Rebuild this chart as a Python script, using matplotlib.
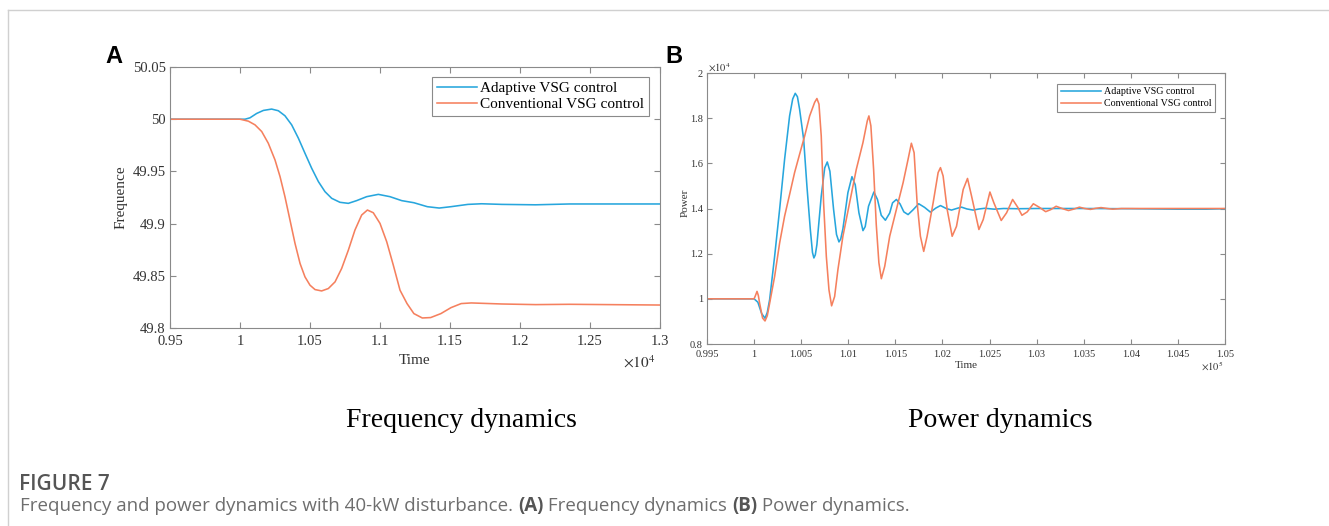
import numpy as np
import matplotlib
matplotlib.use('Agg')
import matplotlib.pyplot as plt
from matplotlib.lines import Line2D

plt.rcParams['font.family'] = 'Liberation Serif'
plt.rcParams['mathtext.fontset'] = 'stix'

# ---- data ----
# panel A: frequency, time in units of 1e4
freqAdaptiveT = [0.95, 1.0, 1.0036, 1.0071, 1.0119, 1.0167, 1.0226, 1.0274, 1.0321, 1.0369,
                 1.0417, 1.0464, 1.0512, 1.056, 1.0607, 1.0655, 1.0714, 1.0774, 1.0833, 1.0905,
                 1.0988, 1.1071, 1.1155, 1.1242, 1.1338, 1.1423, 1.1507, 1.1628, 1.1725, 1.187,
                 1.2111, 1.2353, 1.2594, 1.3]
freqAdaptive = [50.0, 50.0, 50.0, 50.0013, 50.0055, 50.0084, 50.0097, 50.0081, 50.0033, 49.9946,
                49.9818, 49.9674, 49.953, 49.9402, 49.9306, 49.9242, 49.9204, 49.9194, 49.922, 49.9258,
                49.928, 49.9258, 49.922, 49.92, 49.9162, 49.9149, 49.9162, 49.9184, 49.919, 49.9184,
                49.918, 49.9188, 49.9188, 49.9188]
freqConvT = [0.95, 1.0, 1.006, 1.0107, 1.0155, 1.0202, 1.025, 1.0286, 1.0321, 1.0357,
             1.0393, 1.0429, 1.0464, 1.05, 1.0536, 1.0583, 1.0631, 1.0679, 1.0726, 1.0774,
             1.0821, 1.0869, 1.091, 1.0952, 1.1, 1.1048, 1.1095, 1.1143, 1.1193, 1.1242,
             1.1302, 1.1362, 1.1435, 1.1507, 1.158, 1.1652, 1.187, 1.2111, 1.2353, 1.3]
freqConv = [50.0, 50.0, 49.9981, 49.9946, 49.9882, 49.977, 49.961, 49.945, 49.9258, 49.9034,
            49.881, 49.8618, 49.849, 49.841, 49.8368, 49.8355, 49.8378, 49.8442, 49.857, 49.8746,
            49.8938, 49.9082, 49.913, 49.9104, 49.9002, 49.8826, 49.8602, 49.8362, 49.8234, 49.8138,
            49.8096, 49.81, 49.8138, 49.8195, 49.8234, 49.824, 49.823, 49.8224, 49.8227, 49.822]

# panel B: power (units of 1e4), time in units of 1e5
powAdaptiveT = [0.995, 1.0, 1.0004, 1.0008, 1.00116, 1.0014, 1.00165, 1.00218, 1.00271, 1.00324,
                1.00377, 1.0041, 1.00437, 1.0046, 1.00483, 1.00526, 1.00561, 1.00597, 1.0062, 1.00635,
                1.0065, 1.00667, 1.00713, 1.0075, 1.00777, 1.00805, 1.00844, 1.00875, 1.00901, 1.0092,
                1.00943, 1.00996, 1.01039, 1.01074, 1.01113, 1.01156, 1.0118, 1.01215, 1.01272, 1.0131,
                1.0135, 1.01394, 1.0144, 1.0147, 1.01511, 1.0155, 1.0159, 1.01635, 1.0169, 1.01748,
                1.0181, 1.01872, 1.0193, 1.01979, 1.0204, 1.02096, 1.0215, 1.02202, 1.0226, 1.02326,
                1.0239, 1.0245, 1.0255, 1.0265, 1.028, 1.03, 1.035, 1.04, 1.045, 1.048, 1.05]
powAdaptive = [1.0, 1.0, 0.985, 0.935, 0.914, 0.94, 0.996, 1.188, 1.396, 1.618,
               1.81, 1.885, 1.91, 1.895, 1.84, 1.707, 1.499, 1.307, 1.205, 1.181,
               1.195, 1.24, 1.455, 1.58, 1.606, 1.565, 1.396, 1.285, 1.252, 1.265,
               1.31, 1.47, 1.541, 1.505, 1.381, 1.302, 1.32, 1.41, 1.473, 1.44,
               1.37, 1.348, 1.38, 1.425, 1.44, 1.42, 1.385, 1.373, 1.395, 1.421,
               1.405, 1.384, 1.402, 1.413, 1.40, 1.393, 1.40, 1.406, 1.398, 1.393,
               1.398, 1.401, 1.397, 1.400, 1.399, 1.400, 1.400, 1.399, 1.397, 1.397, 1.399]
powConvT = [0.995, 1.0, 1.00015, 1.00031, 1.00045, 1.00059, 1.0009, 1.00116, 1.0014, 1.00165,
            1.00218, 1.00271, 1.00324, 1.00377, 1.0043, 1.00483, 1.00537, 1.0059, 1.00643, 1.00667,
            1.00689, 1.00713, 1.00738, 1.00767, 1.00795, 1.00823, 1.00855, 1.0089, 1.00943, 1.01014,
            1.01085, 1.01156, 1.01202, 1.01219, 1.0124, 1.01269, 1.01297, 1.01325, 1.01351, 1.01387,
            1.0144, 1.01511, 1.01582, 1.01635, 1.0167, 1.01699, 1.01731, 1.01766, 1.01801, 1.01837,
            1.01901, 1.01954, 1.01979, 1.02007, 1.0205, 1.02103, 1.02149, 1.0222, 1.02266, 1.02309,
            1.02387, 1.02433, 1.02504, 1.02546, 1.02624, 1.02681, 1.02745, 1.028, 1.02844, 1.029,
            1.02965, 1.0303, 1.03096, 1.0315, 1.03207, 1.0327, 1.03338, 1.034, 1.03454, 1.0351,
            1.03571, 1.0363, 1.03684, 1.0375, 1.03807, 1.039, 1.05]
powConv = [1.0, 1.0, 1.015, 1.033, 1.015, 0.98, 0.915, 0.902, 0.925, 0.98,
           1.099, 1.247, 1.366, 1.462, 1.559, 1.64, 1.721, 1.81, 1.87, 1.887,
           1.862, 1.721, 1.425, 1.188, 1.04, 0.969, 1.01, 1.129, 1.277, 1.425,
           1.573, 1.692, 1.788, 1.81, 1.766, 1.573, 1.33, 1.16, 1.089, 1.144,
           1.277, 1.396, 1.514, 1.618, 1.689, 1.647, 1.425, 1.277, 1.21, 1.277,
           1.425, 1.559, 1.581, 1.544, 1.396, 1.277, 1.321, 1.484, 1.533, 1.455,
           1.307, 1.351, 1.473, 1.425, 1.347, 1.381, 1.44, 1.405, 1.37, 1.385,
           1.421, 1.405, 1.386, 1.395, 1.41, 1.40, 1.391, 1.398, 1.406, 1.40,
           1.396, 1.401, 1.404, 1.40, 1.397, 1.400, 1.400]

labels = ['Adaptive VSG control', 'Conventional VSG control']
blue = '#27a6dd'
orange = '#f5805e'
axisGray = '#8a8a8a'
textGray = '#333333'

W, H = 1329, 526
fig = plt.figure(figsize=(W / 100, H / 100), dpi=100)


def pxAxes(l, t, r, b):
    return fig.add_axes([l / W, 1 - b / H, (r - l) / W, (b - t) / H])


def matlabStyle(ax, size, ticklen, xpad, ypad):
    for s in ax.spines.values():
        s.set_color(axisGray)
        s.set_linewidth(0.8)
    ax.tick_params(direction='in', top=True, right=True, length=ticklen, width=0.8,
                   color=axisGray, labelsize=size, labelcolor=textGray)
    ax.tick_params(axis='x', pad=xpad)
    ax.tick_params(axis='y', pad=ypad)


def fmt(v):
    return ('%.3f' % v).rstrip('0').rstrip('.')


# ---- panel A ----
axA = pxAxes(170, 67, 660, 328)
axA.plot(freqAdaptiveT, freqAdaptive, color=blue, lw=1.15, label=labels[0])
axA.plot(freqConvT, freqConv, color=orange, lw=1.15, label=labels[1])
axA.set_xlim(0.95, 1.3)
axA.set_ylim(49.8, 50.05)
xtA = np.arange(0.95, 1.3001, 0.05)
ytA = np.arange(49.8, 50.0501, 0.05)
axA.set_xticks(xtA)
axA.set_xticklabels([fmt(v) for v in xtA])
axA.set_yticks(ytA)
axA.set_yticklabels([fmt(v) for v in ytA])
matlabStyle(axA, 10.5, 4, 5, 3)
axA.set_xlabel('Time', fontsize=11, color=textGray)
axA.xaxis.set_label_coords(0.5, -0.1)
axA.set_ylabel('Frequence', fontsize=11, color=textGray)
axA.yaxis.set_label_coords(-0.086, 0.5)
axA.text(0.99, -0.153, r'$\times10^{4}$', transform=axA.transAxes, ha='right', va='baseline',
         fontsize=11, color=textGray)
legA = axA.legend(loc='upper right', bbox_to_anchor=(649 / W, 1 - 77 / H),
                  bbox_transform=fig.transFigure, borderaxespad=0, fontsize=11,
                  handlelength=2.6, handletextpad=0.25, labelspacing=0.15, borderpad=0.3,
                  fancybox=False, framealpha=1)
legA.get_frame().set_edgecolor(axisGray)
legA.get_frame().set_linewidth(0.8)

# ---- panel B ----
axB = pxAxes(707, 73, 1225, 344)
axB.plot(powAdaptiveT, powAdaptive, color=blue, lw=1.15, label=labels[0])
axB.plot(powConvT, powConv, color=orange, lw=1.15, label=labels[1])
axB.set_xlim(0.995, 1.05)
axB.set_ylim(0.8, 2.0)
xtB = np.arange(0.995, 1.05001, 0.005)
ytB = np.arange(0.8, 2.0001, 0.2)
axB.set_xticks(xtB)
axB.set_xticklabels([fmt(v) for v in xtB])
axB.set_yticks(ytB)
axB.set_yticklabels([fmt(v) for v in ytB])
matlabStyle(axB, 7.5, 3.5, 4, 3)
axB.set_xlabel('Time', fontsize=8, color=textGray)
axB.xaxis.set_label_coords(0.5, -0.063)
axB.set_ylabel('Power', fontsize=8, color=textGray)
axB.yaxis.set_label_coords(-0.033, 0.52)
axB.text(0.002, 1.006, r'$\times10^{4}$', transform=axB.transAxes, ha='left', va='baseline',
         fontsize=7.5, color=textGray)
axB.text(0.996, -0.1, r'$\times10^{5}$', transform=axB.transAxes, ha='right', va='baseline',
         fontsize=7.5, color=textGray)
legB = axB.legend(loc='upper right', bbox_to_anchor=(1215 / W, 1 - 84 / H),
                  bbox_transform=fig.transFigure, borderaxespad=0, fontsize=7.2,
                  handlelength=4.0, handletextpad=0.3, labelspacing=0.3, borderpad=0.35,
                  fancybox=False, framealpha=1)
legB.get_frame().set_edgecolor(axisGray)
legB.get_frame().set_linewidth(0.8)

# ---- panel letters and sub captions ----
fig.text(105 / W, 1 - 63 / H, 'A', family='Liberation Sans', weight='bold', fontsize=17,
         va='baseline')
fig.text(665 / W, 1 - 63 / H, 'B', family='Liberation Sans', weight='bold', fontsize=17,
         va='baseline')
fig.text(461 / W, 1 - 427 / H, 'Frequency dynamics', fontsize=20, ha='center', va='baseline')
fig.text(1000 / W, 1 - 427 / H, 'Power dynamics', fontsize=20, ha='center', va='baseline')

# ---- figure caption ----
fig.text(19 / W, 1 - 490 / H, 'FIGURE 7', family='Open Sans', weight='semibold', fontsize=15,
         color='#555555', va='baseline')
renderer = fig.canvas.get_renderer()
x = 20
pieces = [('Frequency and power dynamics with 40-kW disturbance. ', 'normal'),
          ('(A)', 'bold'), (' Frequency dynamics ', 'normal'),
          ('(B)', 'bold'), (' Power dynamics.', 'normal')]
for s, w in pieces:
    t = fig.text(x / W, 1 - 511 / H, s, family='Open Sans', weight=w, fontsize=13.5,
                 color='#555555' if w == 'bold' else '#6e6e6e', va='baseline')
    x = t.get_window_extent(renderer).x1

# thin page frame
fig.add_artist(Line2D([8 / W, 1], [1 - 10 / H, 1 - 10 / H], color='#d0d0d0', lw=1))
fig.add_artist(Line2D([8 / W, 8 / W], [0, 1 - 10 / H], color='#d0d0d0', lw=1))

fig.savefig('out.png', dpi=100)
